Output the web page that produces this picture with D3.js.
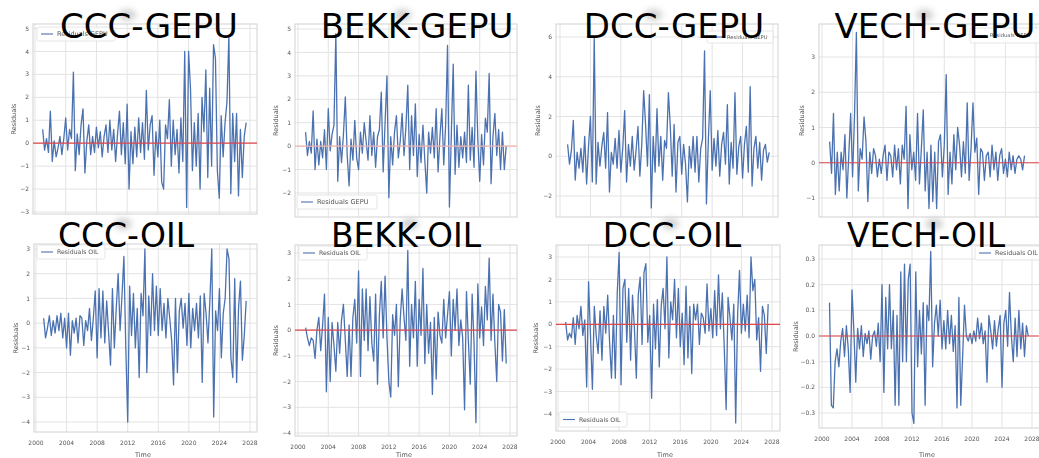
<!DOCTYPE html>
<html><head><meta charset="utf-8">
<script src="https://cdn.jsdelivr.net/npm/d3@7"></script>
<style>body{margin:0;background:#fff}svg{display:block;font-family:"DejaVu Sans",sans-serif}</style>
</head><body>
<svg id="c" width="1039" height="458"></svg>
<script>
// ---- time axis ----
const startYear = 2001, stepYear = 0.25;
const xTickYears = [2000, 2004, 2008, 2012, 2016, 2020, 2024, 2028];

// ---- y tick values ----
const yTicksCccGepu = [-3, -2, -1, 0, 1, 2, 3, 4, 5];
const yTicksBekkGepu = [-2, -1, 0, 1, 2, 3, 4, 5];
const yTicksDccGepu = [-2, 0, 2, 4, 6];
const yTicksVechGepu = [-1, 0, 1, 2, 3];
const yTicksOil = [-4, -3, -2, -1, 0, 1, 2, 3];
const yTicksVechOil = [-0.3, -0.2, -0.1, 0.0, 0.1, 0.2, 0.3];

// ---- residual series (quarterly readings, 2001.00 .. 2027.50) ----
const cccGepu = [0.6,-0.3,0.2,-0.4, 1.4,-0.8,0.1,-0.6, -0.2,0.3,-0.5,0.2, 1.1,-0.3,0.6,0.2, 3.1,-1.2,0.4,-0.5, 0.8,1.5,-1.3,0.1, 0.8,-0.5,0.3,-0.4, 0.7,-0.2,0.5,-0.6, 0.3,0.8,-0.4,1.0, -0.3,0.6,-0.8,0.4, 1.4,-0.5,0.9,-0.9, 1.7,-2.0,0.5,-0.9, 0.7,-0.6,1.1,-0.4, 0.9,-0.7,2.3,-0.3, 0.8,1.2,-1.4,0.5, -0.6,1.0,-1.7,-2.0, 0.8,0.2,1.9,-1.0, 1.0,-0.5,0.6,-1.3, 1.1,-0.8,4.0,-2.8, 4.0,2.4,-1.2,0.9, -1.0,1.3,-2.0,2.0, 0.5,3.2,-1.5,2.4, -1.0,4.3,3.7,-1.2, -2.4,1.2,-0.6,0.9, 1.8,4.7,-2.2,1.3, -0.8,1.3,-2.3,0.6, -1.5,0.3,0.9];
const bekkGepu = [0.6,-0.4,0.2,-0.3, 1.5,-1.0,0.3,-0.8, 0.2,-0.5,0.7,-1.0, 1.6,-0.2,0.5,0.9, 4.8,-1.5,0.4,-0.7, 0.5,2.1,-0.4,-1.7, 0.3,-0.6,1.1,-0.5, -1.0,0.6,-0.3,1.0, 0.2,-0.6,1.3,-0.4, 0.6,-0.9,0.4,0.7, 2.3,-1.1,1.0,3.0, -2.2,0.4,-0.8,0.6, 1.3,-0.5,0.2,1.4, -0.4,0.8,2.6,-1.0, 1.3,-0.4,1.8,-1.3, 0.5,-0.7,0.9,-0.6, -2.0,0.6,-0.3,0.8, -0.5,1.6,-1.1,0.4, 1.6,-0.8,0.9,4.3, -2.6,0.5,3.5,-1.2, 0.9,-0.9,0.4,-0.5, 0.6,-0.7,2.6,-0.6, 0.8,-0.9,3.2,0.3, -1.5,0.5,-0.8,1.2, 0.6,3.1,-1.6,0.4, 1.4,-0.4,0.7,-1.0, 0.6,-1.0,0.0];
const dccGepu = [0.6,-0.4,0.3,1.8, -1.2,0.2,-0.6,0.4, -0.8,1.0,-1.4,0.5, 2.0,-1.3,6.0,-1.4, 0.7,-0.5,0.5,1.2, -0.6,2.2,-1.8,0.2, -0.4,0.9,-0.6,1.3, -0.8,0.4,2.3,-1.3, 0.6,-0.5,1.0,-0.7, 0.3,1.5,-1.0,0.6, 3.3,1.6,-0.5,3.1, -2.6,1.0,-0.8,2.4, -0.5,1.0,-1.2,0.8, 0.4,3.2,1.5,-1.0, 1.6,-1.8,0.7,1.0, -0.9,0.6,-0.4,-2.3, 0.5,-0.6,1.0,-0.8, 1.0,-1.3,0.4,0.9, 5.3,-2.4,0.8,3.3, -0.7,0.9,-0.5,1.3, -1.0,0.6,1.2,-0.4, 2.6,-1.4,0.7,-0.6, 3.2,-0.9,0.5,1.0, -1.1,0.6,1.5,-0.8, 3.5,-1.5,0.4,1.0, -0.6,0.7,-1.2,0.3, 0.6,-0.3,0.2];
const vechGepu = [0.6,-0.3,1.4,-0.9, 0.3,-0.8,0.3,-0.2, 0.8,-1.0,0.2,1.4, -0.4,1.3,3.7,-0.8, 0.4,0.1,1.3,0.6, -1.1,0.3,-0.3,0.4, 0.2,-0.4,0.1,-0.3, 0.2,0.5,-0.5,0.3, 0.2,-0.4,0.5,-0.2, 0.4,-0.6,0.5,0.1, 1.6,-1.3,0.8,-0.2, 0.3,-0.5,1.4,-0.6, 0.4,1.5,-0.8,0.3, -1.3,0.5,-1.1,0.3, -1.3,0.6,0.8,-0.4, 0.5,2.5,-0.9,0.3, -0.6,0.8,-0.2,1.0, 0.5,-0.4,0.6,-0.3, 1.7,-0.5,0.4,1.7, 0.3,0.7,-0.9,0.4, 0.3,-0.5,0.2,0.3, -0.4,0.5,-0.2,0.3, -0.5,0.2,0.4,-0.3, 0.1,-0.4,0.3,-0.2, 0.2,-0.3,0.1,0.2, 0.1,-0.2,0.2];
const cccOil = [0.2,-0.6,-0.2,0.3, -0.5,0.1,-0.4,0.3, -0.3,0.4,-0.6,0.2, -1.0,0.4,-1.3,0.1, -0.4,0.2,-0.8,0.3, 0.2,-0.9,0.1,-0.3, 0.6,-0.7,0.2,1.3, -1.4,1.4,-0.6,1.3, -0.8,0.9,-0.4,-1.7, 1.4,-1.0,0.6,2.0, -0.3,1.1,2.7,-1.0, -4.0,1.5,-0.5,1.2, -1.0,0.6,-2.2,1.2, 0.3,3.0,-2.0,1.1, -0.5,2.0,-0.3,1.5, -0.5,1.4,-0.3,0.8, -0.6,1.0,0.2,-0.7, -2.5,1.0,-2.0,0.5, 1.0,-0.2,0.8,-0.9, 1.2,-1.0,0.6,-0.3, 0.8,-0.6,1.1,-2.4, 1.2,0.4,-0.8,0.9, 3.0,-3.8,0.5,-0.3, 1.4,-1.4,0.4,1.0, 3.0,2.6,-1.4,-2.2, 1.8,-2.4,0.6,1.7, -1.5,-0.5,0.9];
const bekkOil = [0.1,-0.3,-0.6,-0.3, -0.4,-1.1,0.0,0.5, -0.8,0.2,1.4,-2.4, 0.5,-2.0,0.3,-0.6, -1.6,0.3,-0.9,0.4, 1.0,-0.4,-1.8,0.2, -1.8,0.5,1.2,-0.5, 2.3,-1.8,1.6,-0.4, 1.6,-0.8,1.3,-0.5, -1.2,1.4,-2.1,0.6, 1.9,-0.3,2.1,-0.3, -2.0,-2.6,0.6,-0.2, 1.0,-2.2,0.4,1.6, 0.5,-0.4,3.1,-1.4, 1.0,-0.3,1.9,-1.4, 1.2,-0.2,2.4,-1.3, 1.0,-0.9,0.3,-2.5, 0.5,-1.9,0.7,-0.2, -0.5,1.2,-0.3,0.6, 1.5,-1.0,1.2,0.0, 1.6,-0.6,0.4,-0.3, -3.1,1.5,-0.4,-2.1, 1.4,-0.5,-3.6,1.8, -0.3,0.9,-0.6,1.7, 0.4,2.8,-0.4,1.4, -0.5,-2.0,1.0,0.7, -1.2,0.8,-1.3];
const dccOil = [0.1,-0.7,-0.4,-0.6, 0.3,-0.9,0.4,-0.2, 0.8,-0.5,0.2,-2.8, 1.9,-0.5,-2.9,0.8, -0.5,-1.3,0.6,-1.6, 0.8,-0.4,1.3,-0.8, -2.4,0.4,-2.4,1.4, 3.2,-2.7,1.6,2.0, -0.8,1.6,-1.6,1.3, -0.2,-2.4,1.3,2.1, -0.9,2.3,2.7,-0.8, 0.4,-3.3,0.9,-1.1, 1.1,-1.9,0.8,1.6, -0.2,3.0,-1.5,1.0, 0.2,2.0,-0.6,1.6, -1.0,0.5,-1.8,1.7, -1.5,0.8,-2.2,0.9, 0.2,0.9,-0.9,0.5, 0.3,-0.4,1.8,-0.3, 0.7,-0.6,1.5,-0.5, 2.2,-0.2,1.4,-1.0, -3.8,1.2,0.3,-0.7, 0.9,-4.4,0.4,2.4, -0.4,0.9,-0.3,1.3, -0.6,3.0,1.5,2.0, -0.7,0.3,-2.1,0.8, 0.4,-1.3,0.9];
const vechOil = [0.13,-0.27,-0.28,-0.1, -0.05,-0.12,-0.02,0.03, -0.08,0.04,-0.05,-0.22, 0.18,0.02,-0.18,0.03, -0.05,0.04,-0.08,0.01, -0.03,0.02,-0.09,0.0, 0.02,-0.04,0.05,-0.1, 0.2,-0.22,0.15,-0.05, 0.2,-0.05,0.1,-0.27, 0.08,-0.27,0.25,-0.1, 0.28,-0.1,0.22,0.28, -0.3,-0.34,0.25,-0.12, 0.1,-0.07,0.13,-0.27, 0.12,0.06,0.33,-0.12, 0.05,0.12,0.0,0.14, -0.05,0.06,-0.05,0.1, -0.03,0.08,-0.06,0.04, -0.28,0.15,-0.27,-0.08, 0.12,0.0,-0.02,0.01, -0.03,0.02,-0.02,0.07, -0.01,0.05,-0.03,0.02, -0.18,0.08,0.02,-0.05, 0.06,-0.04,0.03,0.08, -0.2,0.05,0.1,-0.04, 0.17,0.0,-0.1,0.07, -0.08,0.1,-0.05,0.05, -0.08,0.04,0.0];

// ---- panel layout (positions / styles) ----
const panels = [
  {data: cccGepu, title: 'CCC-GEPU', legend: 'Residuals GEPU', yTicks: yTicksCccGepu,
   box: [33, 257, 24, 214], xr: [35, 250], yr: [212, 28.5], zero: '#e0474c',
   leg: {x: 37, y: 27, w: 78, h: 14, fs: 6.5}, xlab: false, ylabX: 14, tx: 149, ty: 38, ts: 34},
  {data: bekkGepu, title: 'BEKK-GEPU', legend: 'Residuals GEPU', yTicks: yTicksBekkGepu,
   box: [295, 517, 24, 217], xr: [298, 510], yr: [193, 29], zero: '#f2b3b3',
   leg: {x: 297, y: 195, w: 80, h: 14, fs: 6.6}, xlab: false, ylabX: 276, tx: 417, ty: 38, ts: 34},
  {data: dccGepu, title: 'DCC-GEPU', legend: 'Residuals GEPU', yTicks: yTicksDccGepu,
   box: [556, 778, 24, 217], xr: [560, 773], yr: [196, 37], zero: null,
   leg: {x: 707, y: 31, w: 66, h: 12, fs: 5.2}, xlab: false, ylabX: 538, tx: 674, ty: 38, ts: 34},
  {data: vechGepu, title: 'VECH-GEPU', legend: 'Residuals GEPU', yTicks: yTicksVechGepu,
   box: [819, 1045, 24, 217], xr: [822, 1036], yr: [198, 57], zero: '#e0474c',
   leg: {x: 970, y: 28, w: 80, h: 15, fs: 5.2}, xlab: false, ylabX: 802, tx: 935, ty: 38, ts: 34},
  {data: cccOil, title: 'CCC-OIL', legend: 'Residuals OIL', yTicks: yTicksOil,
   box: [34, 257, 244, 432], xr: [36, 250], yr: [422, 249], zero: null,
   leg: {x: 37, y: 245, w: 68, h: 14, fs: 6.2}, xlab: true, ylabX: 16, tx: 126, ty: 247, ts: 33},
  {data: bekkOil, title: 'BEKK-OIL', legend: 'Residuals OIL', yTicks: yTicksOil,
   box: [295, 517, 245, 436], xr: [298, 510], yr: [433, 253], zero: '#e0474c',
   leg: {x: 299, y: 246, w: 68, h: 14, fs: 6.2}, xlab: true, ylabX: 276, tx: 406, ty: 247, ts: 33},
  {data: dccOil, title: 'DCC-OIL', legend: 'Residuals OIL', yTicks: yTicksOil,
   box: [556, 780, 245, 431], xr: [558, 772], yr: [414, 257], zero: '#e0474c',
   leg: {x: 559, y: 412, w: 68, h: 15, fs: 6.2}, xlab: true, ylabX: 536, tx: 672, ty: 247, ts: 33},
  {data: vechOil, title: 'VECH-OIL', legend: 'Residuals OIL', yTicks: yTicksVechOil,
   box: [819, 1045, 245, 428], xr: [822, 1032], yr: [413, 259], zero: '#e0474c',
   leg: {x: 975, y: 246, w: 70, h: 14, fs: 6.4}, xlab: true, ylabX: 796, tx: 926, ty: 247, ts: 33, fmt: '.1f'}
];

const svg = d3.select('#c');
const defs = svg.append('defs');
defs.append('filter').attr('id', 'blur').attr('x', '-50%').attr('y', '-50%').attr('width', '200%').attr('height', '200%')
  .append('feGaussianBlur').attr('stdDeviation', 3);
defs.append('filter').attr('id', 'soft').attr('x', '-2%').attr('y', '-2%').attr('width', '104%').attr('height', '104%')
  .append('feGaussianBlur').attr('stdDeviation', 0.35);

const lineColor = '#4c72b0', gridColor = '#e3e3e3', spineColor = '#d2d2d2', textColor = '#555';
const minus = s => s.replace('-', '\u2212');

panels.forEach((p, pi) => {
  const [L, R, T, B] = p.box;
  const yVals = p.yTicks;
  const x = d3.scaleLinear().domain([2000, 2028]).range(p.xr);
  const y = d3.scaleLinear().domain([yVals[0], yVals[yVals.length - 1]]).range(p.yr);
  const g = svg.append('g').attr('filter', 'url(#soft)');

  g.append('rect').attr('x', L).attr('y', T).attr('width', R - L).attr('height', B - T)
    .attr('fill', '#fff');
  // grid
  g.selectAll('.vg').data(xTickYears.filter(d => x(d) > L && x(d) < R)).join('line')
    .attr('x1', d => x(d)).attr('x2', d => x(d)).attr('y1', T).attr('y2', B)
    .attr('stroke', gridColor).attr('stroke-width', 1);
  g.selectAll('.hg').data(yVals.filter(d => y(d) > T && y(d) < B)).join('line')
    .attr('x1', L).attr('x2', R).attr('y1', d => y(d)).attr('y2', d => y(d))
    .attr('stroke', gridColor).attr('stroke-width', 1);
  g.append('rect').attr('x', L).attr('y', T).attr('width', R - L).attr('height', B - T)
    .attr('fill', 'none').attr('stroke', spineColor).attr('stroke-width', 1);

  // series
  const line = d3.line().x((d, i) => x(startYear + i * stepYear)).y(d => y(d));
  g.append('path').datum(p.data).attr('d', line).attr('fill', 'none')
    .attr('stroke', lineColor).attr('stroke-width', 1.3).attr('stroke-linejoin', 'round');

  // zero line
  if (p.zero) {
    g.append('line').attr('x1', L).attr('x2', R).attr('y1', y(0)).attr('y2', y(0))
      .attr('stroke', p.zero).attr('stroke-width', 1.2);
  }

  // legend
  const lg = p.leg;
  g.append('rect').attr('x', lg.x).attr('y', lg.y).attr('width', lg.w).attr('height', lg.h)
    .attr('rx', 1.5).attr('fill', '#fff').attr('fill-opacity', 0.85).attr('stroke', '#dedede').attr('stroke-width', 0.8);
  g.append('line').attr('x1', lg.x + 4).attr('x2', lg.x + 16).attr('y1', lg.y + lg.h / 2).attr('y2', lg.y + lg.h / 2)
    .attr('stroke', lineColor).attr('stroke-width', 1.1);
  g.append('text').attr('x', lg.x + 20).attr('y', lg.y + lg.h / 2).attr('dy', '0.35em')
    .attr('font-size', lg.fs).attr('fill', '#555').text(p.legend);

  // y tick labels
  const fmt = p.fmt ? d3.format(p.fmt) : d3.format('d');
  g.selectAll('.yt').data(yVals).join('text')
    .attr('x', L - 4).attr('y', d => y(d)).attr('dy', '0.35em').attr('text-anchor', 'end')
    .attr('font-size', 6).attr('fill', textColor).text(d => minus(fmt(d)));
  // y label
  g.append('text').attr('transform', `translate(${p.ylabX},${(T + B) / 2}) rotate(-90)`)
    .attr('text-anchor', 'middle').attr('dy', '0.35em').attr('font-size', 6.5).attr('fill', textColor).text('Residuals');

  if (p.xlab) {
    g.selectAll('.xt').data(xTickYears).join('text')
      .attr('x', d => x(d)).attr('y', B + 13).attr('text-anchor', 'middle')
      .attr('font-size', 6).attr('fill', textColor).text(d => d);
    g.append('text').attr('x', (p.xr[0] + p.xr[1]) / 2).attr('y', 457).attr('text-anchor', 'middle')
      .attr('font-size', 6.5).attr('fill', textColor).text('Time');
  }
});

// titles on top
panels.forEach(p => {
  const t = svg.append('text').attr('x', p.tx).attr('y', p.ty).attr('text-anchor', 'middle')
    .attr('font-size', p.ts).attr('fill', '#000').text(p.title);
  const node = t.node();
  const total = node.getComputedTextLength();
  const dashIdx = p.title.indexOf('-');
  const sub = node.getSubStringLength(0, dashIdx);
  const left = p.tx - total / 2;
  svg.insert('ellipse', () => node).attr('cx', left + sub - 4).attr('cy', p.ty - 23)
    .attr('rx', 9).attr('ry', 6).attr('fill', '#d2d2d2').attr('filter', 'url(#blur)');
});
</script>
</body></html>
